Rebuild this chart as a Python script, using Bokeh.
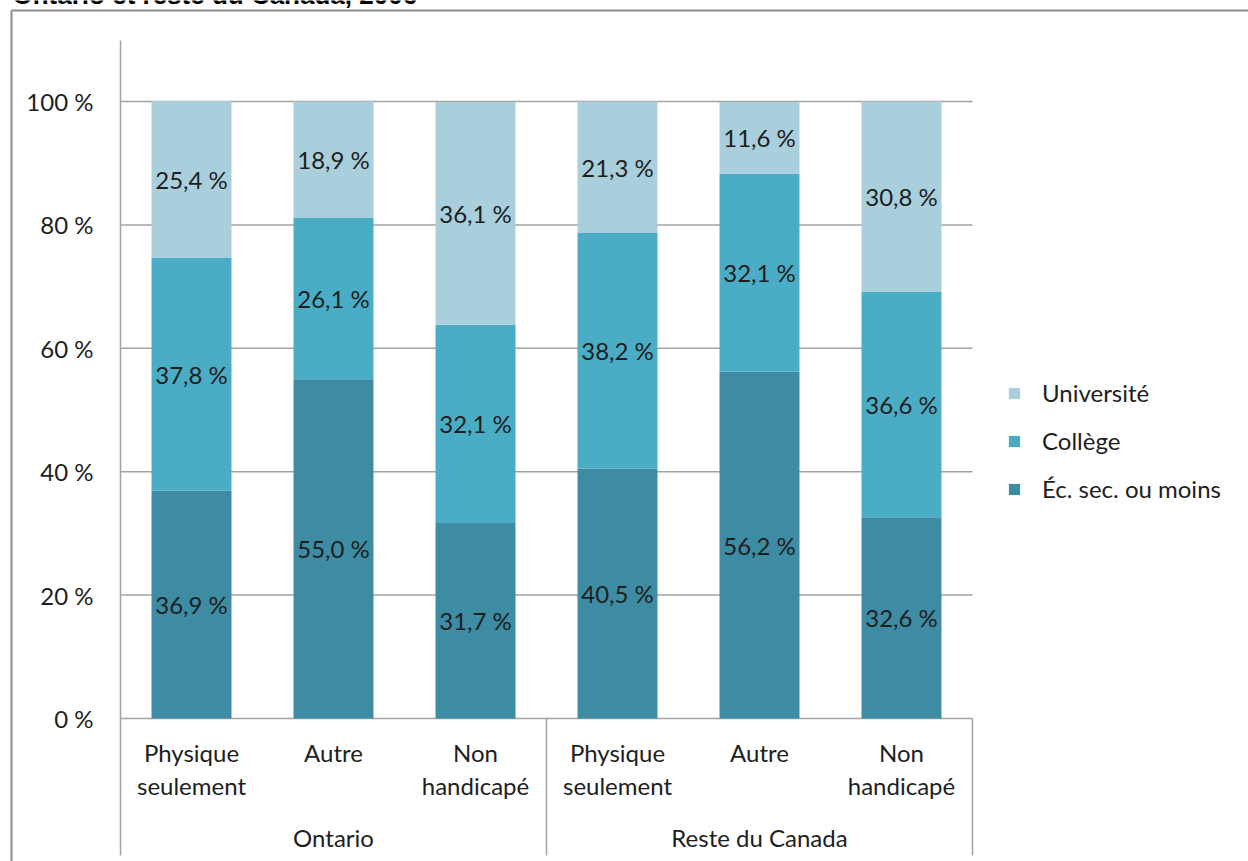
from bokeh.plotting import figure
from bokeh.models import ColumnDataSource, Legend, LegendItem, Range1d
from bokeh.core.properties import value
from bokeh.embed import file_html
from bokeh.resources import INLINE

# ---- data ----
title_text = "Ontario et reste du Canada, 2006"
groups = ["Ontario", "Reste du Canada"]
line1 = ["Physique", "Autre", "Non", "Physique", "Autre", "Non"]
line2 = ["seulement", "", "handicapé", "seulement", "", "handicapé"]
series = ["Éc. sec. ou moins", "Collège", "Université"]
sec = [36.9, 55.0, 31.7, 40.5, 56.2, 32.6]
col = [37.8, 26.1, 32.1, 38.2, 32.1, 36.6]
uni = [25.4, 18.9, 36.1, 21.3, 11.6, 30.8]
yticks = [0, 20, 40, 60, 80, 100]
ytick_labels = ["0 %", "20 %", "40 %", "60 %", "80 %", "100 %"]
colors = ["#3D8CA3", "#4BACC6", "#A9CFDC"]

FONT = "Lato"
TXT = "#1e1e1e"
GRID = "#a3a3a3"
FS = "24px"

W, H = 1248, 861
# pixel anchors of the plot area
PX_LEFT, PX_PER_CAT = 120.0, 142.0
PY_ZERO, PY_PER_PCT = 718.0, 6.17

X0 = -PX_LEFT / PX_PER_CAT
X1 = (W - PX_LEFT) / PX_PER_CAT
Y1 = PY_ZERO / PY_PER_PCT
Y0 = -(H - PY_ZERO) / PY_PER_PCT

def ydat(py):
    return (PY_ZERO - py) / PY_PER_PCT

def xdat(px):
    return (px - PX_LEFT) / PX_PER_CAT

ncat = len(sec)
xs = [i + 0.5 for i in range(ncat)]
src = ColumnDataSource(dict(x=xs, sec=sec, col=col, uni=uni))

p = figure(width=W, height=H, x_range=Range1d(X0, X1), y_range=Range1d(Y0, Y1),
           output_backend="svg", toolbar_location=None,
           x_axis_location=None, y_axis_location=None, min_border=0)
p.outline_line_color = None
p.background_fill_color = "white"
p.border_fill_color = "white"
p.xgrid.visible = False
p.ygrid.visible = False

# gridlines (from tick values) and value-axis line
p.segment(x0=[0] * len(yticks), y0=yticks, x1=[ncat] * len(yticks), y1=yticks,
          line_color=GRID, line_width=1.5)
p.segment(x0=[0], y0=[ydat(40)], x1=[0], y1=[ydat(855)], line_color=GRID, line_width=1.5)
# category-axis separators
p.segment(x0=[3, 6], y0=[0, 0], x1=[3, 6], y1=[ydat(855)] * 2, line_color=GRID, line_width=1.5)

rs = p.vbar_stack(["sec", "col", "uni"], x="x", width=0.563, source=src,
                  color=colors, line_color=None)

# data labels
lx, ly, lt = [], [], []
for i in range(ncat):
    base = 0.0
    for v in (sec[i], col[i], uni[i]):
        lx.append(xs[i]); ly.append(base + v / 2)
        lt.append(f"{v:.1f}".replace(".", ",") + " %")
        base += v
p.text(x=lx, y=ly, text=lt, text_align="center", text_baseline="middle",
       text_font=value(FONT), text_font_size=FS, text_color=TXT)

# value-axis tick labels
p.text(x=[0] * len(yticks), y=yticks, text=ytick_labels, x_offset=-27,
       text_align="right", text_baseline="middle",
       text_font=value(FONT), text_font_size=FS, text_color=TXT)

# category labels
p.text(x=xs, y=[ydat(752)] * ncat, text=line1, text_align="center", text_baseline="middle",
       text_font=value(FONT), text_font_size=FS, text_color=TXT)
p.text(x=xs, y=[ydat(785)] * ncat, text=line2, text_align="center", text_baseline="middle",
       text_font=value(FONT), text_font_size=FS, text_color=TXT)
p.text(x=[1.5, 4.5], y=[ydat(837)] * 2, text=groups, text_align="center",
       text_baseline="middle", text_font=value(FONT), text_font_size=FS, text_color=TXT)

# chart-area border (top and left visible) and the cut-off title above it
BORDER = "#8c8c8c"
p.segment(x0=[xdat(11), xdat(11)], y0=[ydat(10), ydat(10)],
          x1=[X1 + 1, xdat(11)], y1=[ydat(10), Y0 - 1], line_color=BORDER, line_width=2)
p.text(x=[xdat(12)], y=[ydat(-6)], text=[title_text], text_align="left",
       text_baseline="alphabetic", text_font=value("Liberation Sans"),
       text_font_style="bold", text_font_size="26px", text_color="black")

# legend
legend = Legend(items=[LegendItem(label=series[2], renderers=[rs[2]]),
                       LegendItem(label=series[1], renderers=[rs[1]]),
                       LegendItem(label=series[0], renderers=[rs[0]])],
                location=(1007, 358), margin=0, padding=0, border_line_color=None,
                glyph_width=14, glyph_height=14, label_standoff=21, spacing=19,
                label_text_font=FONT, label_text_font_size=FS, label_text_color=TXT,
                background_fill_alpha=0)
p.add_layout(legend)

open("out.html", "w").write(file_html(p, INLINE))
